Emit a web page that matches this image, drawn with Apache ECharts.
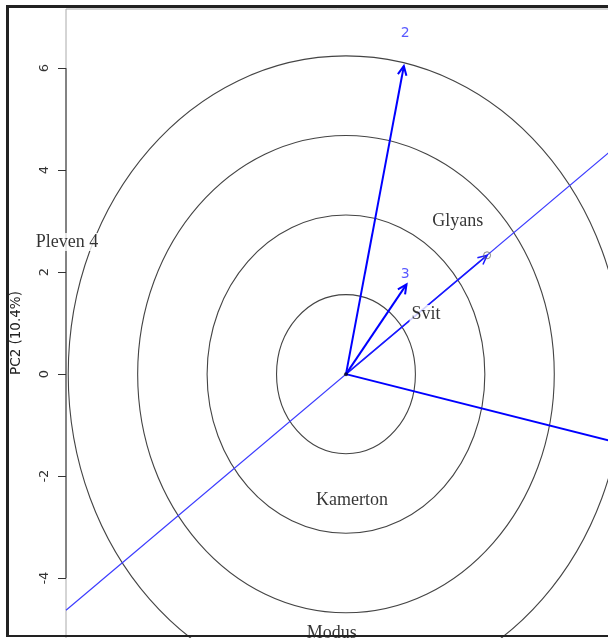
<!DOCTYPE html>
<html>
<head>
<meta charset="utf-8">
<script src="https://cdn.jsdelivr.net/npm/echarts@6/dist/echarts.min.js"></script>
<style>
  html, body { margin: 0; padding: 0; background: #fff; }
  #chart { width: 608px; height: 638px; }
</style>
</head>
<body>
<div id="chart"></div>
<script>
// axis ticks and view window (PC1 / PC2 units)
var yTicks = [-4, -2, 0, 2, 4, 6];
var xRange = [-6.29, 7.19];
var yRange = [-5.39, 7.16];

// concentric rings around the biplot origin
var ringRadii = [1.56, 3.12, 4.68, 6.24];

// environment vectors (tips) and their labels
var envNames = ['1', '2', '3'];
var envX = [7.0, 1.30, 1.36];
var envY = [-1.54, 6.04, 1.76];
var envLabelNames = ['2', '3'];
var envLabelX = [1.33, 1.33];
var envLabelY = [6.69, 1.96];

// genotypes
var genNames = ['Pleven 4', 'Glyans', 'Svit', 'Kamerton', 'Modus'];
var genX = [-6.27, 2.51, 1.80, 0.135, -0.32];
var genY = [2.59, 2.99, 1.18, -2.47, -5.08];

// average environment axis and average environment point
var aeaX = [-6.29, 7.19];
var aeaY = [-4.63, 5.29];
var aeaPoint = [3.17, 2.33];

var chart = echarts.init(document.getElementById('chart'));

function arrowItem(color, width) {
    return function (params, api) {
        var p0 = api.coord([0, 0]);
        var p1 = api.coord([api.value(0), api.value(1)]);
        var ang = Math.atan2(p1[1] - p0[1], p1[0] - p0[0]);
        var L = 10, a = Math.PI / 7;
        var h1 = [p1[0] - L * Math.cos(ang - a), p1[1] - L * Math.sin(ang - a)];
        var h2 = [p1[0] - L * Math.cos(ang + a), p1[1] - L * Math.sin(ang + a)];
        return {
            type: 'group',
            children: [
                { type: 'line', shape: { x1: p0[0], y1: p0[1], x2: p1[0], y2: p1[1] },
                  style: { stroke: color, lineWidth: width } },
                { type: 'polyline', shape: { points: [h1, p1, h2] },
                  style: { stroke: color, lineWidth: width, fill: null } }
            ]
        };
    };
}

var option = {
    animation: false,
    backgroundColor: '#fff',
    grid: {
        left: 66, top: 9, width: 600, height: 640,
        show: true, borderColor: '#aaa', borderWidth: 1,
        containLabel: false, outerBoundsMode: 'none'
    },
    xAxis: {
        type: 'value', min: xRange[0], max: xRange[1], show: false,
        axisLine: { onZero: false }
    },
    yAxis: {
        type: 'value', min: yRange[0], max: yRange[1],
        splitLine: { show: false },
        axisLine: { show: false, onZero: false },
        axisTick: { show: true, customValues: yTicks, length: 8, lineStyle: { color: '#333' } },
        axisLabel: {
            customValues: yTicks, rotate: 90, margin: 15,
            fontFamily: 'DejaVu Sans', fontSize: 13, color: '#333'
        }
    },
    graphic: [
        { type: 'text', x: 16, y: 333, rotation: Math.PI / 2,
          style: { text: 'PC2 (10.4%)', fontFamily: 'DejaVu Sans', fontSize: 13.5, fill: '#222',
                   textAlign: 'center', textVerticalAlign: 'middle' } },
        { type: 'rect', shape: { x: 6, y: 5, width: 602, height: 3 }, style: { fill: '#222' }, z: 100 },
        { type: 'rect', shape: { x: 6, y: 5, width: 3, height: 632 }, style: { fill: '#222' }, z: 100 },
        { type: 'rect', shape: { x: 6, y: 635, width: 602, height: 2 }, style: { fill: '#222' }, z: 100 }
    ],
    series: [
        {
            // rings
            type: 'custom', z: 2, clip: true,
            data: ringRadii.map(function (r) { return [r, 0]; }),
            encode: { x: 0, y: 1 },
            renderItem: function (params, api) {
                var c = api.coord([0, 0]);
                var s = api.size([api.value(0), api.value(0)]);
                return { type: 'ellipse', shape: { cx: c[0], cy: c[1], rx: s[0], ry: s[1] },
                         style: { fill: null, stroke: '#444', lineWidth: 1.1 } };
            }
        },
        {
            // average environment axis
            type: 'line', z: 3, symbol: 'none', clip: true,
            data: [[aeaX[0], aeaY[0]], [aeaX[1], aeaY[1]]],
            lineStyle: { color: '#3c3cff', width: 1.2 }
        },
        {
            // arrow to the average environment
            type: 'custom', z: 4, clip: true,
            data: [aeaPoint],
            renderItem: arrowItem('#1a1aff', 1.5)
        },
        {
            type: 'scatter', z: 4, symbol: 'circle', symbolSize: 7,
            itemStyle: { color: 'rgba(0,0,0,0)', borderColor: '#666', borderWidth: 1 },
            data: [aeaPoint]
        },
        {
            // environment vectors
            type: 'custom', z: 5, clip: true,
            data: envNames.map(function (n, i) { return [envX[i], envY[i]]; }),
            renderItem: arrowItem('#0000ff', 2)
        },
        {
            type: 'scatter', z: 6, symbolSize: 4,
            itemStyle: { color: '#000022' },
            data: [[0, 0]]
        },
        {
            // left axis line (from first to last tick)
            type: 'line', z: 6, symbol: 'none', clip: false,
            data: [[xRange[0], yTicks[0]], [xRange[0], yTicks[yTicks.length - 1]]],
            lineStyle: { color: '#333', width: 1 }
        },
        {
            type: 'scatter', z: 10, symbolSize: 0, clip: false,
            data: envLabelNames.map(function (n, i) { return { name: n, value: [envLabelX[i], envLabelY[i]] }; }),
            label: { show: true, position: 'inside', formatter: '{b}',
                     fontFamily: 'DejaVu Sans', fontSize: 14, color: '#3030ff' }
        },
        {
            type: 'scatter', z: 10, symbolSize: 0, clip: false,
            data: genNames.map(function (n, i) { return { name: n, value: [genX[i], genY[i]] }; }),
            label: { show: true, position: 'inside', formatter: '{b}',
                     fontFamily: 'Liberation Serif', fontSize: 18, color: '#000',
                     backgroundColor: '#fff', padding: [0, 2] }
        }
    ]
};

chart.setOption(option);
</script>
</body>
</html>
